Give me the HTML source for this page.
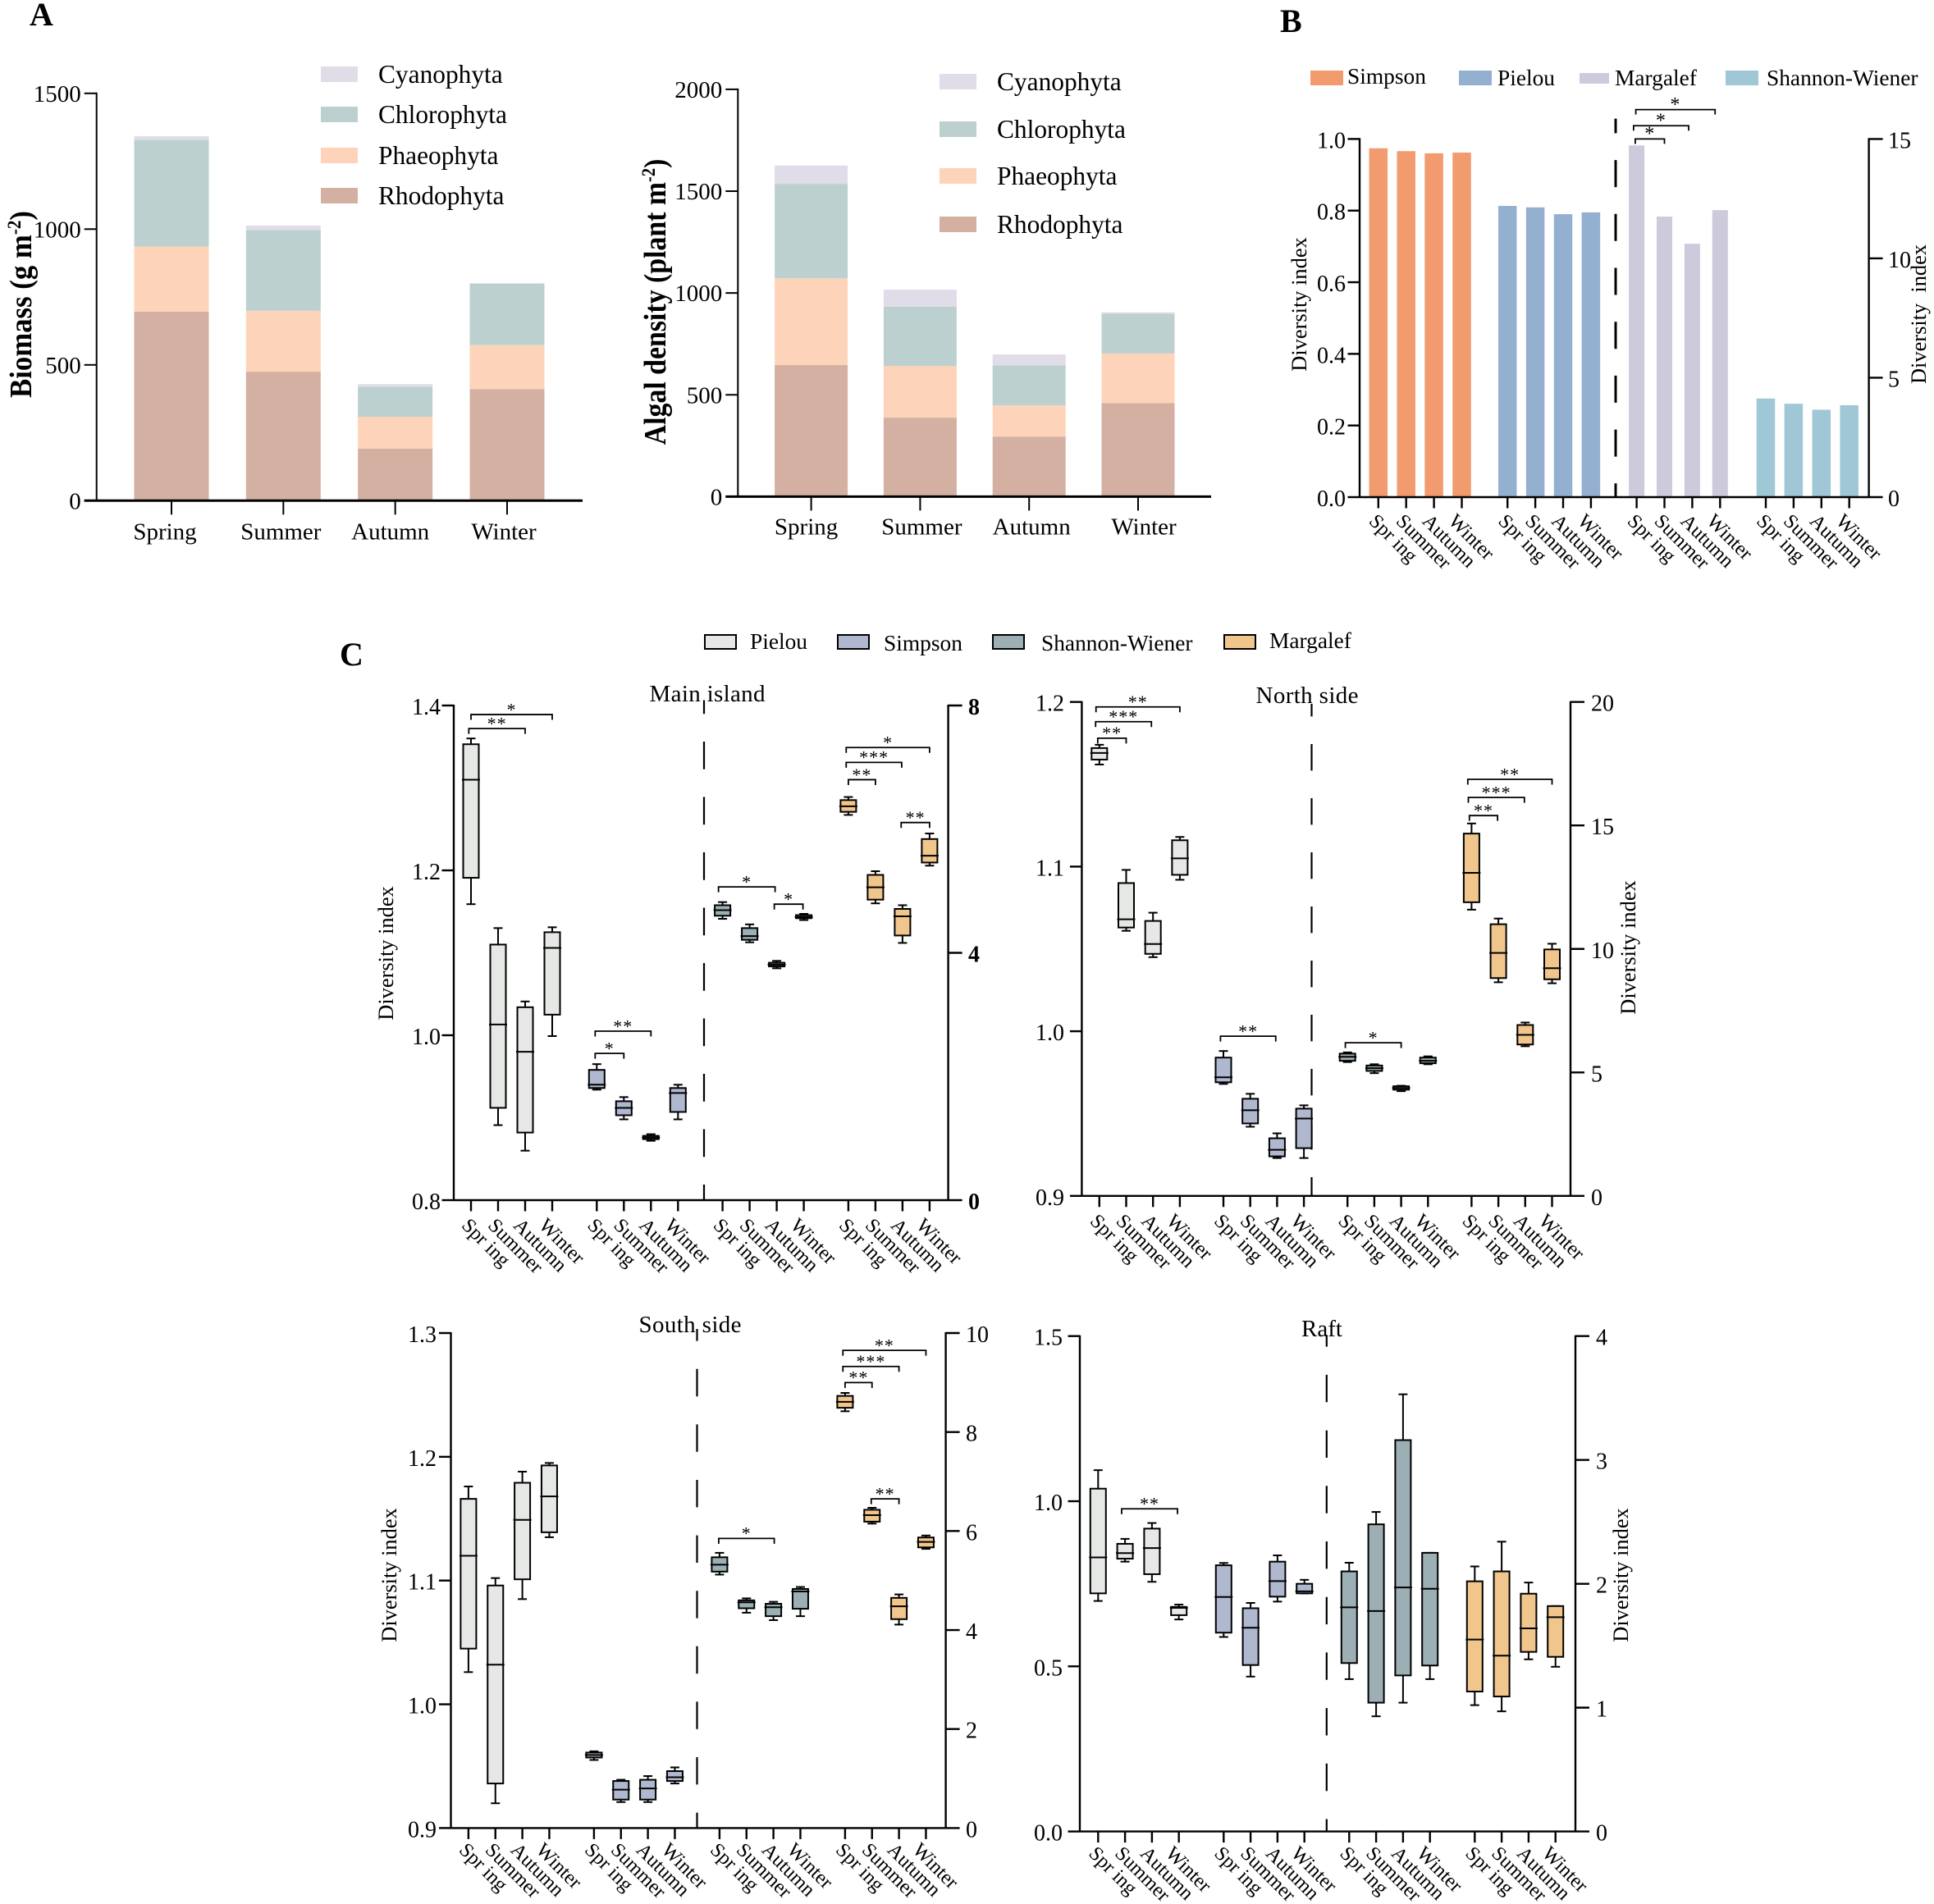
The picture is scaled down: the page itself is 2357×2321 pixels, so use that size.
<!DOCTYPE html>
<html lang="en">
<head>
<meta charset="utf-8">
<title>Macroalgae biomass, density and diversity indices</title>
<style>
html,body{margin:0;padding:0;background:#fff;}
svg{display:block;}
text{font-family:"Liberation Serif","Noto Serif CJK SC",serif;fill:#000;}
</style>
</head>
<body>
<svg id="figure" xmlns="http://www.w3.org/2000/svg" width="2357" height="2321" viewBox="0 0 2357 2321">
  <rect x="0" y="0" width="2357" height="2321" fill="#ffffff"/>

  <text x="36" y="31" font-size="40" font-weight="bold">A</text>
  <text x="1560" y="39" font-size="40" font-weight="bold">B</text>
  <text x="414" y="811" font-size="40" font-weight="bold">C</text>

  <g font-size="31.4">
    <rect x="391" y="81" width="45" height="19" fill="#e0dce8"/>
    <text x="461" y="101">Cyanophyta</text>
    <rect x="391" y="130" width="45" height="19" fill="#bcd1cf"/>
    <text x="461" y="150">Chlorophyta</text>
    <rect x="391" y="180" width="45" height="19" fill="#fdd4b9"/>
    <text x="461" y="200">Phaeophyta</text>
    <rect x="391" y="229" width="45" height="19" fill="#d3b0a2"/>
    <text x="461" y="249">Rhodophyta</text>
  </g>

  <g font-size="31.4">
    <rect x="1145" y="90" width="45" height="19" fill="#e0dce8"/>
    <text x="1215" y="110">Cyanophyta</text>
    <rect x="1145" y="148" width="45" height="19" fill="#bcd1cf"/>
    <text x="1215" y="168">Chlorophyta</text>
    <rect x="1145" y="205" width="45" height="19" fill="#fdd4b9"/>
    <text x="1215" y="225">Phaeophyta</text>
    <rect x="1145" y="264" width="45" height="19" fill="#d3b0a2"/>
    <text x="1215" y="284">Rhodophyta</text>
  </g>

  <text transform="translate(38,371) rotate(-90) scale(0.915,1)" text-anchor="middle" font-size="38" font-weight="bold">Biomass (g m<tspan dy="-13" font-size="23">-2</tspan><tspan dy="13">)</tspan></text>
  <text transform="translate(811,368) rotate(-90) scale(0.89,1)" text-anchor="middle" font-size="38" font-weight="bold">Algal density (plant m<tspan dy="-13" font-size="23">-2</tspan><tspan dy="13">)</tspan></text>

  <g font-size="27.4">
    <rect x="1597" y="86" width="40" height="18" fill="#f19b6f"/>
    <text x="1642" y="102">Simpson</text>
    <rect x="1778" y="86" width="40" height="18" fill="#94b0d0"/>
    <text x="1825" y="104">Pielou</text>
    <rect x="1925" y="89" width="36" height="13" fill="#cdcadb"/>
    <text x="1968" y="104">Margalef</text>
    <rect x="2103" y="86" width="40" height="18" fill="#9fc7d6"/>
    <text x="2153" y="104">Shannon-Wiener</text>
  </g>
  <text transform="translate(1592,371) rotate(-90)" text-anchor="middle" font-size="26.4">Diversity index</text>
  <text transform="translate(2347,383) rotate(-90)" text-anchor="middle" font-size="26.4" xml:space="preserve">Diversity  index</text>

  <g font-size="27.4">
    <rect x="859" y="774" width="38" height="17" fill="#e6e8e6" stroke="#000" stroke-width="2"/>
    <text x="914" y="791">Pielou</text>
    <rect x="1021" y="774" width="38" height="17" fill="#b0b8cf" stroke="#000" stroke-width="2"/>
    <text x="1077" y="793">Simpson</text>
    <rect x="1210" y="774" width="38" height="17" fill="#9cafb5" stroke="#000" stroke-width="2"/>
    <text x="1269" y="793">Shannon-Wiener</text>
    <rect x="1492" y="774" width="38" height="17" fill="#f0c68c" stroke="#000" stroke-width="2"/>
    <text x="1547" y="790">Margalef</text>
  </g>

  <text x="862" y="855" text-anchor="middle" font-size="29" textLength="141">Main island</text>
  <text x="1593" y="857" text-anchor="middle" font-size="29" textLength="125">North side</text>
  <text x="841" y="1624" text-anchor="middle" font-size="29" textLength="125">South side</text>
  <text x="1611" y="1629" text-anchor="middle" font-size="29">Raft</text>

  <text transform="translate(479,1162) rotate(-90)" text-anchor="middle" font-size="26.4">Diversity index</text>
  <text transform="translate(1993,1155) rotate(-90)" text-anchor="middle" font-size="26.4">Diversity index</text>
  <text transform="translate(483,1920) rotate(-90)" text-anchor="middle" font-size="26.4">Diversity index</text>
  <text transform="translate(1984,1920) rotate(-90)" text-anchor="middle" font-size="26.4">Diversity index</text>
</svg>

<script>
/* ---------- data ---------- */
const seasonLabels = ['Spring', 'Summer', 'Autumn', 'Winter'];
const rotatedLabels = ['Spr ing', 'Summer', 'Autumn', 'Winter'];

const biomassRhodophyta = [696, 475, 192, 411];
const biomassPhaeophyta = [240, 224, 117, 162];
const biomassChlorophyta = [393, 297, 111, 226];
const biomassCyanophyta = [13, 17, 9, 2];
const biomassTicks = [0, 500, 1000, 1500];

const densityRhodophyta = [646, 388, 295, 459];
const densityPhaeophyta = [426, 254, 153, 244];
const densityChlorophyta = [464, 290, 196, 196];
const densityCyanophyta = [90, 84, 54, 6];
const densityTicks = [0, 500, 1000, 1500, 2000];

const barSimpson = [0.974, 0.966, 0.960, 0.962];
const barPielou = [0.813, 0.809, 0.790, 0.795];
const barMargalef = [14.73, 11.75, 10.61, 12.02];
const barShannon = [4.13, 3.91, 3.66, 3.85];
const barLeftTicks = [0, 0.2, 0.4, 0.6, 0.8, 1.0];
const barRightTicks = [0, 5, 10, 15];
const barBrackets = [[7.97, 10.82, 1.082, '*'], [7.89, 9.87, 1.037, '*'], [7.95, 9, 1.0, '*']];

/* box values: [low whisker, q1, median, q3, high whisker] */
const mainPielou = [[1.159,1.191,1.310,1.353,1.360],[0.891,0.912,1.013,1.110,1.130],[0.860,0.882,0.980,1.034,1.041],[0.999,1.025,1.106,1.125,1.131]];
const mainSimpson = [[0.934,0.936,0.940,0.958,0.965],[0.898,0.903,0.912,0.920,0.925],[0.872,0.874,0.876,0.878,0.880],[0.898,0.907,0.930,0.936,0.940]];
const mainShannon = [[4.55,4.60,4.69,4.77,4.82],[4.17,4.21,4.27,4.40,4.46],[3.75,3.78,3.81,3.84,3.87],[4.53,4.56,4.58,4.61,4.63]];
const mainMargalef = [[6.23,6.28,6.37,6.47,6.52],[4.80,4.86,5.06,5.26,5.32],[4.16,4.28,4.59,4.71,4.77],[5.41,5.46,5.57,5.84,5.93]];
const mainLeftTicks = [0.8, 1.0, 1.2, 1.4];
const mainRightTicks = [0, 4, 8];
const mainBrackets = [[0,3,1.389,'*'],[-0.08,2,1.372,'**'],[3.94,6,1.005,'**'],[3.94,5,0.978,'*'],[7.85,9.94,1.180,'*'],[9.91,10.97,1.159,'*'],[11.92,15,1.349,'*'],[11.92,13.97,1.331,'***'],[12,13,1.310,'**'],[13.95,15,1.258,'**']];

const northPielou = [[1.162,1.165,1.169,1.172,1.174],[1.061,1.063,1.068,1.090,1.098],[1.045,1.047,1.053,1.067,1.072],[1.092,1.095,1.105,1.116,1.118]];
const northSimpson = [[0.968,0.969,0.972,0.984,0.988],[0.942,0.944,0.952,0.959,0.962],[0.923,0.924,0.928,0.935,0.938],[0.923,0.929,0.947,0.953,0.955]];
const northShannon = [[5.42,5.47,5.63,5.76,5.81],[4.97,5.06,5.17,5.28,5.33],[4.24,4.30,4.37,4.44,4.46],[5.33,5.37,5.47,5.60,5.65]];
const northMargalef = [[11.59,11.89,13.08,14.67,15.08],[8.65,8.82,9.84,11.0,11.23],[6.06,6.13,6.52,6.92,7.02],[8.61,8.77,9.22,9.98,10.21]];
const northLeftTicks = [0.9, 1.0, 1.1, 1.2];
const northRightTicks = [0, 5, 10, 15, 20];
const northBrackets = [[-0.125,3,1.197,'**'],[-0.14,1.94,1.188,'***'],[-0.06,1,1.178,'**'],[3.89,5.95,0.997,'**'],[7.92,10,0.993,'*'],[11.86,15,1.153,'**'],[11.88,13.97,1.142,'***'],[11.92,12.97,1.131,'**']];

const southPielou = [[1.026,1.045,1.120,1.166,1.176],[0.920,0.936,1.032,1.096,1.102],[1.085,1.101,1.149,1.179,1.188],[1.135,1.139,1.168,1.193,1.195]];
const southSimpson = [[0.955,0.957,0.959,0.961,0.962],[0.921,0.923,0.931,0.938,0.939],[0.921,0.923,0.932,0.939,0.942],[0.936,0.938,0.941,0.946,0.949]];
const southShannon = [[5.12,5.18,5.32,5.47,5.56],[4.35,4.44,4.56,4.60,4.64],[4.20,4.28,4.46,4.53,4.57],[4.28,4.43,4.78,4.83,4.87]];
const southMargalef = [[8.42,8.49,8.61,8.73,8.79],[6.15,6.19,6.32,6.43,6.47],[4.11,4.22,4.48,4.65,4.72],[5.64,5.67,5.78,5.87,5.91]];
const southLeftTicks = [0.9, 1.0, 1.1, 1.2, 1.3];
const southRightTicks = [0, 2, 4, 6, 8, 10];
const southBrackets = [[7.97,10.03,1.134,'*'],[11.92,15,1.286,'**'],[11.92,14,1.273,'***'],[12,13,1.260,'**'],[12.97,14,1.166,'**']];

const raftPielou = [[0.698,0.721,0.830,1.038,1.094],[0.817,0.826,0.843,0.871,0.886],[0.756,0.779,0.858,0.917,0.934],[0.642,0.655,0.677,0.680,0.687]];
const raftSimpson = [[0.589,0.602,0.710,0.806,0.813],[0.469,0.504,0.617,0.676,0.692],[0.696,0.711,0.758,0.817,0.836],[0.721,0.721,0.727,0.750,0.762]];
const raftShannon = [[1.23,1.36,1.81,2.10,2.17],[0.93,1.04,1.78,2.48,2.58],[1.04,1.26,1.97,3.16,3.53],[1.23,1.34,1.96,2.25,2.25]];
const raftMargalef = [[1.02,1.13,1.55,2.02,2.14],[0.97,1.09,1.42,2.10,2.34],[1.39,1.45,1.64,1.92,2.01],[1.33,1.41,1.73,1.82,1.82]];
const raftLeftTicks = [0, 0.5, 1.0, 1.5];
const raftRightTicks = [0, 1, 2, 3, 4];
const raftBrackets = [[0.875,2.95,0.977,'**']];

/* ---------- helpers ---------- */
const SVG_NS = 'http://www.w3.org/2000/svg';
const root = document.getElementById('figure');

function make(tag, parent, attrs) {
  const el = document.createElementNS(SVG_NS, tag);
  for (const k in attrs) el.setAttribute(k, attrs[k]);
  parent.appendChild(el);
  return el;
}
function line(parent, x1, y1, x2, y2, width, name) {
  const el = make('line', parent, {x1: x1, y1: y1, x2: x2, y2: y2, stroke: '#000', 'stroke-width': width});
  
  
  return el;
}
function label(parent, x, y, str, size, anchor, bold, name) {
  const el = make('text', parent, {x: x, y: y, 'font-size': size, 'text-anchor': anchor});
  if (bold) el.style.fontWeight = 'bold';
  el.textContent = str;
  
  
  return el;
}
function linear(d0, d1, r0, r1) {
  return function (v) { return r0 + (v - d0) * (r1 - r0) / (d1 - d0); };
}
function group(name) {
  const g = make('g', root, {});
  
  
  return g;
}

/* ---------- panel A: stacked bars ---------- */
function drawStacked(o) {
  const g = group(o.name);
  const y = linear(0, o.max, o.y0, o.y1);
  const colors = ['#d3b0a2', '#fdd4b9', '#bcd1cf', '#e0dce8'];
  const names = ['rhodophyta', 'phaeophyta', 'chlorophyta', 'cyanophyta'];
  seasonLabels.forEach(function (season, i) {
    let base = 0;
    o.series.forEach(function (arr, s) {
      const top = base + arr[i];
      const rect = make('rect', g, {x: o.centers(i) - o.barW / 2, y: y(top), width: o.barW, height: y(base) - y(top), fill: colors[s]});
      
      
      base = top;
    });
    line(g, o.centers(i), o.y0, o.centers(i), o.y0 + 17, 2, 'x-axis-tick');
    label(g, o.centers(i) + o.labelNudge[i], o.y0 + o.labelDy, season, 29, 'middle', false, 'x-axis-label-' + season.toLowerCase());
  });
  line(g, o.axisX, o.y1 - 1, o.axisX, o.y0, 2, 'y-axis-line');
  line(g, o.axisX - 15, o.y0, o.xEnd, o.y0, 3, 'x-axis-line');
  o.ticks.forEach(function (t) {
    line(g, o.axisX - 15, y(t), o.axisX, y(t), 2, 'y-axis-tick');
    label(g, o.axisX - 19, y(t) + 10, String(t), 29, 'end', false, 'y-axis-label-' + t);
  });
}
drawStacked({name: 'biomass-chart', max: 1500, y0: 610.3, y1: 113.8, axisX: 117.7, xEnd: 710, barW: 91,
  centers: linear(0, 3, 209, 618), labelNudge: [-8, -3, -6, -4], labelDy: 47, ticks: biomassTicks,
  series: [biomassRhodophyta, biomassPhaeophyta, biomassChlorophyta, biomassCyanophyta]});
drawStacked({name: 'density-chart', max: 2000, y0: 605.4, y1: 108.9, axisX: 899.3, xEnd: 1476, barW: 89,
  centers: linear(0, 3, 988.6, 1387), labelNudge: [-6, 2, 3, 7], labelDy: 46, ticks: densityTicks,
  series: [densityRhodophyta, densityPhaeophyta, densityChlorophyta, densityCyanophyta]});

/* ---------- shared axes for panels B and C ---------- */
function tickX(o, idx) {
  const grp = Math.max(0, Math.floor((idx + 0.5) / 4));
  return o.x0 + o.groupGap * grp + o.step * (idx - grp * 4);
}
const rotatedLabelNudge = [0, -1, -3, -5];
function drawDualAxes(g, o, yL, yR) {
  line(g, o.axisL, o.yTop - 1, o.axisL, o.yBot, 2.4, 'left-y-axis-line');
  line(g, o.axisR, o.yTop - 1, o.axisR, o.yBot, 2.4, 'right-y-axis-line');
  line(g, o.axisL, o.yBot, o.axisR, o.yBot, 2.4, 'x-axis-line');
  o.leftTicks.forEach(function (t) {
    line(g, o.axisL - 14.5, yL(t), o.axisL, yL(t), 2.4, 'left-y-axis-tick');
    label(g, o.leftLabelX, yL(t) + 11, t.toFixed(1), 28, 'end', false, 'left-y-axis-label');
  });
  o.rightTicks.forEach(function (t) {
    line(g, o.axisR, yR(t), o.axisR + 17, yR(t), 2.4, 'right-y-axis-tick');
    label(g, o.rightLabelX, yR(t) + 11, String(t), 28, 'start', o.boldRight, 'right-y-axis-label');
  });
  for (let i = 0; i < 16; i++) {
    const x = tickX(o, i);
    line(g, x, o.yBot, x, o.yBot + 13.5, 2.4, 'x-axis-tick');
    const x0 = x - 12.5 + rotatedLabelNudge[i % 4];
    const y0 = o.yBot + o.labelDy;
    const t = label(g, x0, y0, rotatedLabels[i % 4], 24.5, 'start', false, 'x-axis-label');
    t.setAttribute('transform', 'rotate(45 ' + x0 + ' ' + y0 + ')');
  }
  const period = o.dash + o.gap;
  const dashed = line(g, o.dashX, o.dashTop, o.dashX, o.yBot, o.dashW, 'season-divider-dashed-line');
  dashed.setAttribute('stroke-dasharray', o.dash + ' ' + o.gap);
  dashed.setAttribute('stroke-dashoffset', period - (o.dashStart - o.dashTop));
}
function drawBrackets(g, o, yL, list, size, legLen) {
  list.forEach(function (b) {
    const xa = tickX(o, b[0]);
    const xb = tickX(o, b[1]);
    const y = yL(b[2]);
    const path = make('path', g, {d: 'M' + xa + ' ' + (y + legLen) + 'V' + y + 'H' + xb + 'V' + (y + legLen), fill: 'none', stroke: '#000', 'stroke-width': 1.8});
    
    
    const s = label(g, (xa + xb) / 2, y + 1.3, b[3], size, 'middle', false, 'significance-stars');
    s.setAttribute('letter-spacing', '1');
  });
}

/* ---------- panel B: grouped bars on two axes ---------- */
(function () {
  const o = {x0: 1679.8, step: 33.9, groupGap: 157.4, axisL: 1657, axisR: 2277.6, yTop: 169.4, yBot: 606,
    leftTicks: barLeftTicks, rightTicks: barRightTicks, leftLabelX: 1640, rightLabelX: 2301, boldRight: false, labelDy: 30.5,
    dashX: 1969, dashTop: 144.6, dashStart: 195.1, dash: 33, gap: 32.7, dashW: 3};
  const g = group('diversity-bar-chart');
  const yL = linear(0, 1, o.yBot, o.yTop);
  const yR = linear(0, 15, o.yBot, o.yTop);
  const series = [
    {values: barSimpson, color: '#f19b6f', w: 22.5, y: yL, name: 'simpson'},
    {values: barPielou, color: '#94b0d0', w: 22.5, y: yL, name: 'pielou'},
    {values: barMargalef, color: '#cdcadb', w: 19, y: yR, name: 'margalef'},
    {values: barShannon, color: '#9fc7d6', w: 22.5, y: yR, name: 'shannon-wiener'}
  ];
  series.forEach(function (s, gi) {
    s.values.forEach(function (v, i) {
      const x = tickX(o, gi * 4 + i);
      const r = make('rect', g, {x: x - s.w / 2, y: s.y(v), width: s.w, height: o.yBot - s.y(v), fill: s.color});
      
      
    });
  });
  drawDualAxes(g, o, yL, yR);
  drawBrackets(g, o, yL, barBrackets, 24, 6);
})();

/* ---------- panel C: box plots ---------- */
function drawBoxPanel(o) {
  const g = group(o.name);
  const yL = linear(o.leftMin, o.leftMax, o.yBot, o.yTop);
  const yR = linear(o.rightMin, o.rightMax, o.yBot, o.yTop);
  const series = [
    {values: o.pielou, color: '#e6e8e6', y: yL, name: 'pielou'},
    {values: o.simpson, color: '#b0b8cf', y: yL, name: 'simpson'},
    {values: o.shannon, color: '#9cafb5', y: yR, name: 'shannon-wiener'},
    {values: o.margalef, color: '#f0c68c', y: yR, name: 'margalef'}
  ];
  drawDualAxes(g, o, yL, yR);
  series.forEach(function (s, gi) {
    s.values.forEach(function (b, i) {
      const x = tickX(o, gi * 4 + i);
      const bg = make('g', g, {});
      
      
      line(bg, x, s.y(b[4]), x, s.y(b[3]), 2, 'whisker-upper');
      line(bg, x, s.y(b[1]), x, s.y(b[0]), 2, 'whisker-lower');
      line(bg, x - 5.5, s.y(b[4]), x + 5.5, s.y(b[4]), 2, 'whisker-cap-upper');
      line(bg, x - 5.5, s.y(b[0]), x + 5.5, s.y(b[0]), 2, 'whisker-cap-lower');
      const r = make('rect', bg, {x: x - 9.5, y: s.y(b[3]), width: 19, height: s.y(b[1]) - s.y(b[3]), fill: s.color, stroke: '#000', 'stroke-width': 2});
      
      
      line(bg, x - 11, s.y(b[2]), x + 11, s.y(b[2]), 2, 'box-median');
    });
  });
  drawBrackets(g, o, yL, o.brackets, 22, 6.5);
}

drawBoxPanel({name: 'main-island-boxplot', x0: 574, step: 33, groupGap: 153.3, axisL: 553, axisR: 1155.6, yTop: 860, yBot: 1463,
  leftMin: 0.8, leftMax: 1.4, rightMin: 0, rightMax: 8, leftTicks: mainLeftTicks, rightTicks: mainRightTicks,
  leftLabelX: 537, rightLabelX: 1180, boldRight: true, labelDy: 32,
  dashX: 858, dashTop: 853.5, dashStart: 904, dash: 33.7, gap: 33.8, dashW: 2.2,
  pielou: mainPielou, simpson: mainSimpson, shannon: mainShannon, margalef: mainMargalef, brackets: mainBrackets});

drawBoxPanel({name: 'north-side-boxplot', x0: 1339.8, step: 32.7, groupGap: 151.2, axisL: 1318.4, axisR: 1914, yTop: 855.7, yBot: 1457.8,
  leftMin: 0.9, leftMax: 1.2, rightMin: 0, rightMax: 20, leftTicks: northLeftTicks, rightTicks: northRightTicks,
  leftLabelX: 1297, rightLabelX: 1939, boldRight: false, labelDy: 32,
  dashX: 1598.5, dashTop: 858, dashStart: 907, dash: 32.4, gap: 33.6, dashW: 2.2,
  pielou: northPielou, simpson: northSimpson, shannon: northShannon, margalef: northMargalef, brackets: northBrackets});

drawBoxPanel({name: 'south-side-boxplot', x0: 570.9, step: 32.85, groupGap: 153, axisL: 549.5, axisR: 1152.6, yTop: 1625, yBot: 2228.4,
  leftMin: 0.9, leftMax: 1.3, rightMin: 0, rightMax: 10, leftTicks: southLeftTicks, rightTicks: southRightTicks,
  leftLabelX: 532, rightLabelX: 1177, boldRight: false, labelDy: 28,
  dashX: 849.5, dashTop: 1620, dashStart: 1668.8, dash: 33.4, gap: 34.2, dashW: 2.2,
  pielou: southPielou, simpson: southSimpson, shannon: southShannon, margalef: southMargalef, brackets: southBrackets});

drawBoxPanel({name: 'raft-boxplot', x0: 1338.3, step: 32.8, groupGap: 153, axisL: 1316, axisR: 1920, yTop: 1628.7, yBot: 2232.6,
  leftMin: 0, leftMax: 1.5, rightMin: 0, rightMax: 4, leftTicks: raftLeftTicks, rightTicks: raftRightTicks,
  leftLabelX: 1295, rightLabelX: 1945, boldRight: false, labelDy: 28,
  dashX: 1616.8, dashTop: 1627.3, dashStart: 1675.9, dash: 33.4, gap: 34.3, dashW: 2.2,
  pielou: raftPielou, simpson: raftSimpson, shannon: raftShannon, margalef: raftMargalef, brackets: raftBrackets});
</script>
</body>
</html>
